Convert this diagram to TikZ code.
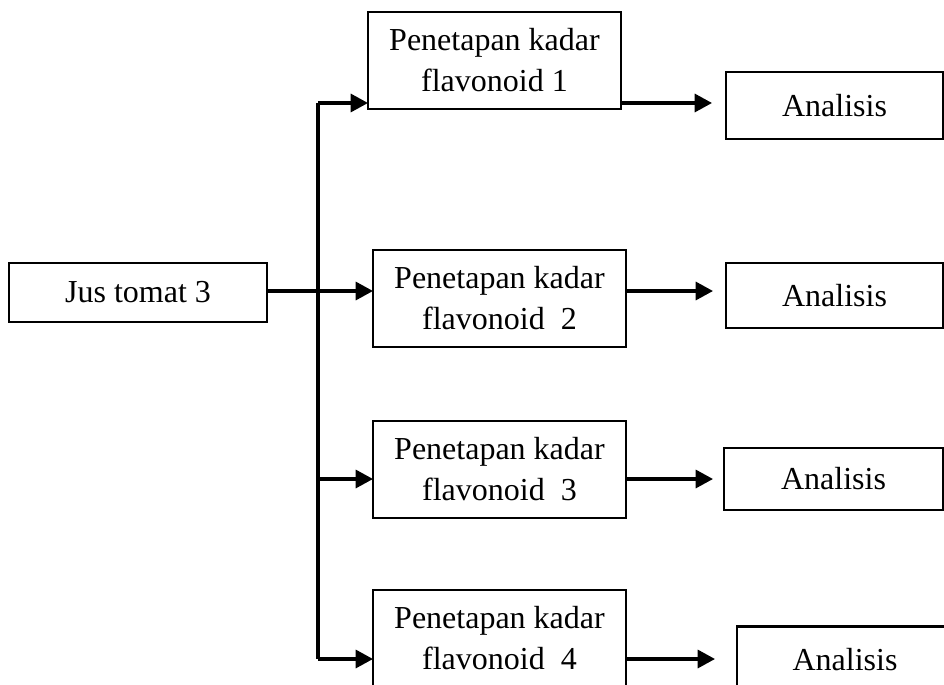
\documentclass[tikz,border=0pt]{standalone}
\usepackage{fontspec}
\setmainfont{Liberation Serif}
\usetikzlibrary{
  arrows.meta
  }

\begin{document}
\begin{tikzpicture}[x=0.75pt,y=-0.75pt]
    \useasboundingbox (0,0) rectangle (944,684);
    \clip (0,0) rectangle (944,684);

    \tikzset{kotak/.style = {draw, line width=1.7pt, inner sep=0pt, outer sep=0pt, align=center,
                             font=\fontsize{24}{30.75}\selectfont},
             panah/.style = {line width=2.4pt, -{Triangle[length=13pt,width=13.5pt]}}}

    % awal
    \node [kotak, minimum width=258*0.75pt, minimum height=59*0.75pt] (jus) at (138,292.5) {Jus tomat 3};
    % penetapan kadar
    \node [kotak, minimum width=253*0.75pt, minimum height=97*0.75pt] (kadarsatu) at (494.5,60.5) {Penetapan kadar\\flavonoid 1};
    \node [kotak, minimum width=253*0.75pt, minimum height=97*0.75pt] (kadardua) at (499.5,298.5) {Penetapan kadar\\flavonoid~ 2};
    \node [kotak, minimum width=253*0.75pt, minimum height=97*0.75pt] (kadartiga) at (499.5,469.5) {Penetapan kadar\\flavonoid~ 3};
    \node [kotak, minimum width=253*0.75pt, minimum height=97*0.75pt] (kadarempat) at (499.5,638.5) {Penetapan kadar\\flavonoid~ 4};
    % analisis
    \node [kotak, minimum width=217*0.75pt, minimum height=67*0.75pt] (analisissatu) at (834.5,105.5) {Analisis};
    \node [kotak, minimum width=217*0.75pt, minimum height=65*0.75pt] (analisisdua) at (834.5,295.5) {Analisis};
    \node [kotak, minimum width=219*0.75pt, minimum height=62*0.75pt] (analisistiga) at (833.5,479) {Analisis};
    \node [kotak, minimum width=216*0.75pt, minimum height=67*0.75pt] (analisisempat) at (845,660) {Analisis};

    % batang
    \coordinate (satu) at (318,103);
    \coordinate (dua) at (318,291);
    \coordinate (tiga) at (318,479);
    \coordinate (empat) at (318,659);
    \draw [line width=2.4pt] (satu) -- (empat);

    \draw [panah] (jus.east |- dua) -- (dua -| kadardua.west);
    \draw [panah] (satu) -- (satu -| kadarsatu.west);
    \draw [panah] (tiga) -- (tiga -| kadartiga.west);
    \draw [panah] (empat) -- (empat -| kadarempat.west);

    \draw [panah, shorten >=14*0.75pt] (satu -| kadarsatu.east) -- (satu -| analisissatu.west);
    \draw [panah, shorten >=13*0.75pt] (dua -| kadardua.east) -- (dua -| analisisdua.west);
    \draw [panah, shorten >=11*0.75pt] (tiga -| kadartiga.east) -- (tiga -| analisistiga.west);
    \draw [panah, shorten >=22*0.75pt] (empat -| kadarempat.east) -- (empat -| analisisempat.west);

\end{tikzpicture}
\end{document}
